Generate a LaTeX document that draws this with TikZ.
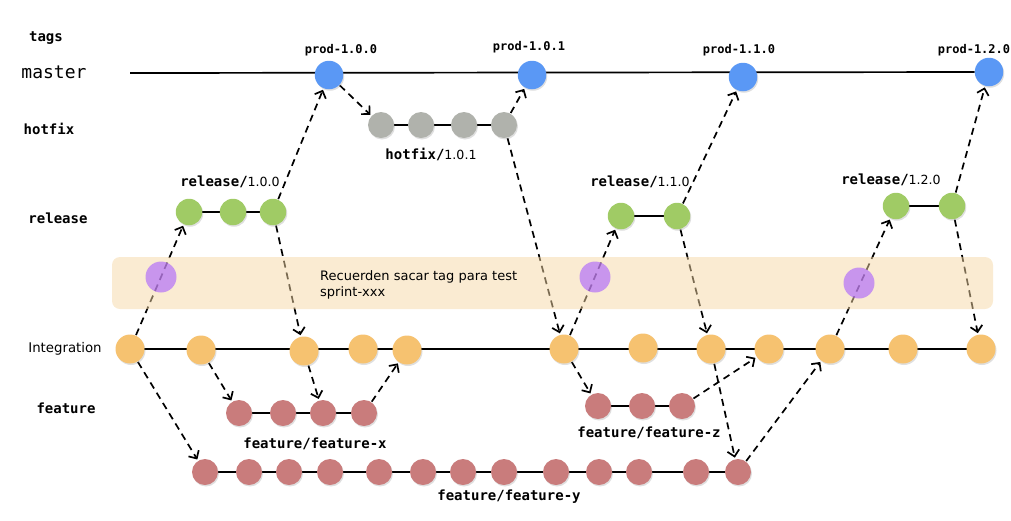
\documentclass[tikz,border=0pt]{standalone}
\usepackage{fontspec}
\setmainfont{DejaVu Sans}
\setmonofont{DejaVu Sans Mono}
\usetikzlibrary{arrows.meta,shadows}
\definecolor{cblue}{RGB}{90,152,245}
\definecolor{cgray}{RGB}{176,178,172}
\definecolor{cgreen}{RGB}{160,203,101}
\definecolor{corange}{RGB}{246,194,112}
\definecolor{crose}{RGB}{201,124,124}
\definecolor{cpurple}{RGB}{167,93,255}
\definecolor{cband}{RGB}{245,215,165}
\pgfdeclarelayer{lines}
\pgfdeclarelayer{bandlayer}
\pgfsetlayers{lines,bandlayer,main}
\newcommand\lblfont{\ttfamily\bfseries\fontsize{14}{16}\selectfont}
\newcommand\tagfont{\ttfamily\bfseries\fontsize{12}{14}\selectfont}
\newcommand\verfont{\rmfamily\mdseries\fontsize{12.6}{14}\selectfont}
\begin{document}
\begin{tikzpicture}[x=1pt,y=-1pt,
  commit/.style={circle,inner sep=0pt,minimum size=#1,
    drop shadow={shadow xshift=1pt,shadow yshift=-1.5pt,opacity=0.25}},
  bluec/.style={commit=28.5pt,fill=cblue},
  grayc/.style={commit=26pt,fill=cgray},
  greenc/.style={commit=26.5pt,fill=cgreen},
  orangec/.style={commit=29pt,fill=corange},
  rosec/.style={commit=26pt,fill=crose},
  purplec/.style={circle,inner sep=0pt,minimum size=31pt,fill=cpurple,fill opacity=0.6},
  lbl/.style={inner sep=0pt,font=\lblfont},
  taglbl/.style={inner sep=0pt,font=\tagfont},
  branch/.style={line width=1.7pt},
  flow/.style={line width=1.7pt,dash pattern=on 7pt off 5pt,
    -{Straight Barb[length=6pt,width=12pt]},shorten >=1.5pt,shorten <=0.5pt},
  bandbox/.style={rectangle,rounded corners=8pt,fill=cband,fill opacity=0.5,
    minimum width=881pt,minimum height=52pt,inner sep=0pt}
]
\useasboundingbox (0,0) rectangle (1011,520);

% left labels
\node[lbl] (Ltags) at (46,38) {tags};
\node[inner sep=0pt,font=\ttfamily\fontsize{18}{20}\selectfont] (Lmaster) at (54,72) {master};
\node[lbl] (Lhotfix) at (49,129) {hotfix};
\node[lbl] (Lrelease) at (58,218) {release};
\node[inner sep=0pt,font=\fontsize{13.3}{15}\selectfont] (Lint) at (65,349) {Integration};
\node[lbl] (Lfeature) at (66,408) {feature};

% band
\begin{pgfonlayer}{bandlayer}
\node[bandbox] (band) at (552.5,283) {};
\end{pgfonlayer}
\node[anchor=west,align=left,inner sep=0pt,font=\fontsize{13}{16}\selectfont] (note) at (320,285)
  {Recuerden sacar tag para test\\sprint-xxx};

% master
\node[bluec] (m1) at (329,75) {};
\node[bluec] (m2) at (532,75) {};
\node[bluec] (m3) at (743,77) {};
\node[bluec] (m4) at (989,72) {};
\coordinate (mstart) at (130,73);
\node[taglbl] (t1) at (341,50) {prod-1.0.0};
\node[taglbl] (t2) at (529,47) {prod-1.0.1};
\node[taglbl] (t3) at (739,50) {prod-1.1.0};
\node[taglbl] (t4) at (974,50) {prod-1.2.0};

% hotfix
\node[grayc] (h1) at (381,125) {};
\node[grayc] (h2) at (421,125) {};
\node[grayc] (h3) at (464,125) {};
\node[grayc] (h4) at (504,125) {};
\node[lbl] (hl) at (431,154) {hotfix/{\verfont 1.0.1}};

% releases
\node[greenc] (r1a) at (189,212) {};
\node[greenc] (r1b) at (233,212) {};
\node[greenc] (r1c) at (273,212) {};
\node[lbl] (rl1) at (230,182) {release/{\verfont 1.0.0}};
\node[greenc] (r2a) at (621,216) {};
\node[greenc] (r2b) at (677,216) {};
\node[lbl] (rl2) at (640,182) {release/{\verfont 1.1.0}};
\node[greenc] (r3a) at (896,206) {};
\node[greenc] (r3b) at (952,206) {};
\node[lbl] (rl3) at (891,180) {release/{\verfont 1.2.0}};

% purple test tags
\node[purplec] (pu1) at (161,277) {};
\node[purplec] (pu2) at (595,277) {};
\node[purplec] (pu3) at (859,283) {};

% integration
\node[orangec] (i1) at (130,349) {};
\node[orangec] (i2) at (201,350) {};
\node[orangec] (i3) at (304,351) {};
\node[orangec] (i4) at (363,349) {};
\node[orangec] (i5) at (407,350) {};
\node[orangec] (i6) at (564,349) {};
\node[orangec] (i7) at (643,348) {};
\node[orangec] (i8) at (711,349) {};
\node[orangec] (i9) at (769,349) {};
\node[orangec] (i10) at (830,349) {};
\node[orangec] (i11) at (903,349) {};
\node[orangec] (i12) at (981,349) {};

% feature-x
\node[rosec] (fx1) at (239,413) {};
\node[rosec] (fx2) at (283,413) {};
\node[rosec] (fx3) at (323,413) {};
\node[rosec] (fx4) at (364,413) {};
\node[lbl] (fxl) at (315,444) {feature/feature-x};

% feature-z
\node[rosec] (fz1) at (598,406) {};
\node[rosec] (fz2) at (642,406) {};
\node[rosec] (fz3) at (682,406) {};
\node[lbl] (fzl) at (649,433) {feature/feature-z};

% feature-y
\foreach \n/\x in {1/205,2/249,3/289,4/330,5/379,6/423,7/463,8/504,9/556,10/599,11/639,12/696,13/738}
  \node[rosec] (fy\n) at (\x,472) {};
\node[lbl] (fyl) at (509,497) {feature/feature-y};

\begin{pgfonlayer}{lines}
% branch lines
\draw[branch] (mstart) -- (m4);
\draw[branch] (h1) -- (h4);
\draw[branch] (r1a) -- (r1c);
\draw[branch] (r2a) -- (r2b);
\draw[branch] (r3a) -- (r3b);
\draw[branch] (i1.center) -- (i12.center);
\draw[branch] (fx1) -- (fx4);
\draw[branch] (fz1) -- (fz3);
\draw[branch] (fy1) -- (fy13);
% flows
\draw[flow] (i1) -- (r1a);
\draw[flow] (r1c) -- (m1);
\draw[flow] (m1) -- (h1);
\draw[flow] (h4) -- (m2);
\draw[flow] (h4) -- (i6);
\draw[flow] (r1c) -- (i3);
\draw[flow] (i6) -- (r2a);
\draw[flow] (r2b) -- (m3);
\draw[flow] (r2b) -- (i8);
\draw[flow] (i10) -- (r3a);
\draw[flow] (r3b) -- (m4);
\draw[flow] (r3b) -- (i12);
\draw[flow] (i1) -- (fy1);
\draw[flow] (i2) -- (fx1);
\draw[flow] (i3) -- (fx3);
\draw[flow] (fx4) -- (i5);
\draw[flow] (i6) -- (fz1);
\draw[flow] (fz3) -- (i9);
\draw[flow] (i8) -- (fy13);
\draw[flow] (fy13) -- (i10);
\end{pgfonlayer}
\end{tikzpicture}
\end{document}
